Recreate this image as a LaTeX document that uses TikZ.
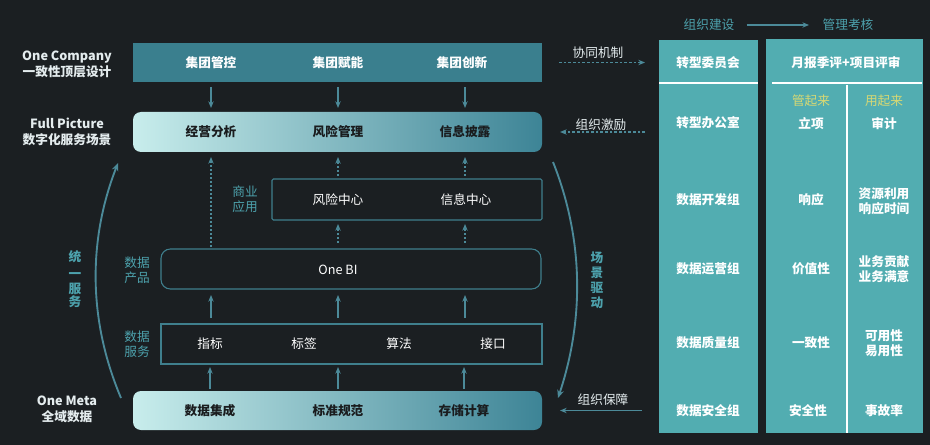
\documentclass[tikz,border=0pt]{standalone}
\usepackage{fontspec}
\setmainfont{Noto Sans CJK SC}
\usetikzlibrary{arrows.meta,fit,calc}
\definecolor{bg}{HTML}{1B1F22}
\definecolor{topc}{HTML}{3A7F8E}
\definecolor{gl}{HTML}{C8EDEC}
\definecolor{gr}{HTML}{3D8496}
\definecolor{linec}{HTML}{3F7F8D}
\definecolor{arrc}{HTML}{4C8A99}
\definecolor{tealt}{HTML}{4DA2AD}
\definecolor{panel}{HTML}{52ADB1}
\definecolor{yel}{HTML}{D6D874}
\definecolor{darkt}{HTML}{1A1C1E}
\definecolor{lt}{HTML}{E4ECEE}
\begin{document}
\begin{tikzpicture}[x=0.75pt,y=-0.75pt,
  every node/.style={inner sep=0pt,font=\fontsize{9.5pt}{11.25pt}\selectfont},
  boxbase/.style={inner sep=0pt,outer sep=0pt},
  topbox/.style={boxbase,fill=topc},
  gbox/.style={boxbase,left color=gl,right color=gr,rounded corners=6pt},
  obox/.style={boxbase,draw=linec,line width=0.8pt},
  pbox/.style={boxbase,fill=panel},
  wb/.style={text=white,font=\fontsize{9.5pt}{11.25pt}\selectfont\bfseries},
  db/.style={text=darkt,font=\fontsize{9.5pt}{11.25pt}\selectfont\bfseries},
  wn/.style={text=white},
  ln/.style={text=lt,font=\fontsize{9.5pt}{12pt}\selectfont\bfseries,align=center},
  tl/.style={text=tealt,align=center,font=\fontsize{9.5pt}{11.25pt}\selectfont},
  tv/.style={text=tealt,font=\fontsize{9.5pt}{11.25pt}\selectfont\bfseries},
  yl/.style={text=yel},
  pw/.style={text=white,align=center,font=\fontsize{9.5pt}{11.25pt}\selectfont\bfseries},
  arr/.style={draw=arrc,line width=0.9pt,-{Stealth[length=5pt,width=4pt]}},
  darr/.style={arr,dash pattern=on 1.5pt off 1.5pt},
  arcarr/.style={draw=arrc,line width=1.4pt,-{Stealth[length=6pt,width=5pt]}},
  sep/.style={draw=white,line width=1.5pt}
]
\fill[bg] (0,0) rectangle (930,445);
\useasboundingbox (0,0) rectangle (930,445);

% main boxes
\node[topbox,fit={(133,43) (542,82)}] (top) {};
\node[gbox,fit={(133,112) (542,152)}] (sec) {};
\node[obox,rounded corners=1pt,fit={(272,179) (542,220)}] (app) {};
\node[obox,rounded corners=7pt,fit={(161,249) (541,289)}] (bi) {};
\node[obox,fit={(161,324) (542,364)}] (svc) {};
\node[gbox,fit={(133,391) (542,430)}] (bot) {};

% texts in boxes
\node[wb] (t1) at (211,63) {集团管控};
\node[wb] (t2) at (338,63) {集团赋能};
\node[wb] (t3) at (462,63) {集团创新};
\node[db] (s1) at (211,132) {经营分析};
\node[db] (s2) at (338,132) {风险管理};
\node[db] (s3) at (465,132) {信息披露};
\node[wn] (a1) at (338,200) {风险中心};
\node[wn] (a2) at (466,200) {信息中心};
\node[wn] (bi1) at (338,270) {One BI};
\node[wn] (v1) at (210,344) {指标};
\node[wn] (v2) at (304,344) {标签};
\node[wn] (v3) at (399,344) {算法};
\node[wn] (v4) at (493,344) {接口};
\node[db] (b1) at (210,411) {数据集成};
\node[db] (b2) at (338,411) {标准规范};
\node[db] (b3) at (464,411) {存储计算};

% side small labels
\node[tl] (lapp) at (245,199) {商业\\应用};
\node[tl] (lbi) at (137,270) {数据\\产品};
\node[tl] (lsvc) at (137,344) {数据\\服务};

% left labels
\node[ln] (l1) at (67,64) {One Company\\一致性顶层设计};
\node[ln] (l2) at (67,132) {Full Picture\\数字化服务场景};
\node[ln] (l3) at (67,409) {One Meta\\全域数据};

% vertical arrows
\foreach \n in {1,2,3}{
  \draw[arr,shorten <=3.75pt,shorten >=3pt] (s\n |- top.south) -- (s\n |- sec.north);
  \draw[arr,shorten <=4.5pt,shorten >=4.5pt] (s\n |- svc.north) -- (s\n |- bi.south);
  \draw[arr,shorten <=1.5pt,shorten >=2.25pt] (b\n |- bot.north) -- (b\n |- svc.south);
}
\foreach \n in {2,3}{
  \draw[darr,shorten <=2.25pt,shorten >=3.75pt] (s\n |- app.north) -- (s\n |- sec.south);
  \draw[darr,shorten <=4.5pt,shorten >=3pt] (s\n |- bi.north) -- (s\n |- app.south);
}
\draw[darr,shorten <=1.5pt,shorten >=3.75pt] (s1 |- bi.north) -- (s1 |- sec.south);

% arcs
\coordinate (la1) at (121,398);
\coordinate (la2) at (118,163);
\coordinate (ra1) at (553,162);
\coordinate (ra2) at (558,398);
\draw[arcarr] (la1) .. controls (88,320) and (88,240) .. (la2);
\draw[arcarr] (ra1) .. controls (584,240) and (584,320) .. (ra2);
\node[tv] (u1) at (75,257) {统};
\node[tv] (u2) at (75,276) {一};
\node[tv] (u3) at (75,289) {服};
\node[tv] (u4) at (75,302) {务};
\node[tv,align=center,font=\fontsize{9.5pt}{11.25pt}\selectfont\bfseries] (sd) at (597,280) {场\\景\\驱\\动};

% right panel
\node[pbox,fit={(659,40) (758,433)}] (lc) {};
\node[pbox,fit={(766,39) (923,433)}] (rc) {};
\draw[sep] (659,83) -- (758,83);
\draw[sep] (772,83) -- (922,83);
\draw[sep] (847,85) -- (847,433);

\node[text=tealt] (h1) at (709,25) {组织建设};
\node[text=tealt] (h2) at (848,25) {管理考核};
\draw[draw=arrc,line width=1pt,-{Stealth[length=5pt,width=4pt]},shorten <=9pt,shorten >=10pt] (h1.east) -- (h2.west);

% side arrows
\draw[darr,dash pattern=on 2pt off 1.5pt,shorten <=12.75pt,shorten >=10.5pt] (top.east) -- (lc.west |- top.east);
\draw[darr,dash pattern=on 2pt off 1.5pt,shorten <=10.5pt,shorten >=13.5pt] (lc.west |- sec.east) -- (sec.east);
\draw[arr,shorten <=12.75pt,shorten >=13.5pt] (lc.west |- bot.east) -- (bot.east);
\node[text=lt] (m1) at (598,53) {协同机制};
\node[text=lt] (m2) at (601,125) {组织激励};
\node[text=lt] (m3) at (603,400) {组织保障};

% left column texts
\node[pw] (c1) at (708,63) {转型委员会};
\node[pw] (c2) at (708,123) {转型办公室};
\node[pw] (c3) at (708,200) {数据开发组};
\node[pw] (c4) at (708,269) {数据运营组};
\node[pw] (c5) at (708,343) {数据质量组};
\node[pw] (c6) at (708,411) {数据安全组};

% right column texts
\node[pw] (r0) at (846,63) {月报季评+项目评审};
\node[yl] (y1) at (811,101) {管起来};
\node[yl] (y2) at (884,101) {用起来};
\node[pw] (r1) at (811,124) {立项};
\node[pw] (q1) at (884,124) {审计};
\node[pw] (r2) at (811,200) {响应};
\node[pw] (q2) at (884,201) {资源利用\\响应时间};
\node[pw] (r3) at (811,269) {价值性};
\node[pw] (q3) at (884,269) {业务贡献\\业务满意};
\node[pw] (r4) at (811,343) {一致性};
\node[pw] (q4) at (884,343) {可用性\\易用性};
\node[pw] (r5) at (808,411) {安全性};
\node[pw] (q5) at (884,411) {事故率};
\end{tikzpicture}
\end{document}
